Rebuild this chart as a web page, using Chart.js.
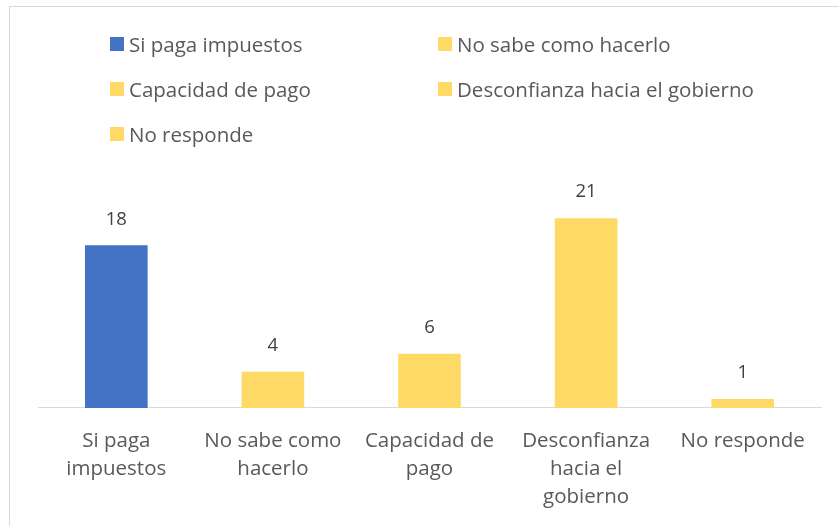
<!DOCTYPE html>
<html>
<head>
<meta charset="utf-8">
<script src="https://cdn.jsdelivr.net/npm/chart.js@4/dist/chart.umd.min.js"></script>
<style>
  html, body { margin: 0; padding: 0; background: #fff; overflow: hidden; }
  #wrap { position: relative; width: 839px; height: 526px; overflow: hidden; }
  #frame { position: absolute; left: 9px; top: 6px; width: 860px; height: 560px; border: 1px solid #d9d9d9; box-sizing: border-box; }
  canvas { position: absolute; left: 0; top: 0; }
  #legend { position: absolute; left: 110px; top: 31px; display: grid; grid-template-columns: 328px 360px; grid-auto-rows: 45px;
            font-family: "Open Sans", sans-serif; font-size: 20.5px; color: #595959; }
  #legend .item { display: flex; align-items: center; height: 26px; }
  #legend .box { width: 14px; height: 14px; margin-right: 5px; flex: none; }
</style>
</head>
<body>
<div id="wrap">
  <div id="frame"></div>
  <canvas id="chart" width="839" height="540"></canvas>
  <div id="legend"></div>
</div>
<script>
// categories and counts
const categories = ["Si paga impuestos", "No sabe como hacerlo", "Capacidad de pago", "Desconfianza hacia el gobierno", "No responde"];
const tickLabels = [["Si paga", "impuestos"], ["No sabe como", "hacerlo"], ["Capacidad de", "pago"], ["Desconfianza", "hacia el", "gobierno"], ["No responde"]];
const values = [18, 4, 6, 21, 1];
const barColors = ["#4472C4", "#FFD966", "#FFD966", "#FFD966", "#FFD966"];

// legend in two columns
const legendEl = document.getElementById("legend");
categories.forEach((c, i) => {
    const item = document.createElement("div");
    item.className = "item";
    item.innerHTML = `<span class="box" style="background:${barColors[i]}"></span><span>${c}</span>`;
    legendEl.appendChild(item);
});

// value labels above each bar
const valueLabels = {
    id: "valueLabels",
    afterDatasetsDraw(chart) {
        const ctx = chart.ctx;
        const meta = chart.getDatasetMeta(0);
        ctx.save();
        ctx.font = "18.5px 'Open Sans', sans-serif";
        ctx.fillStyle = "#404040";
        ctx.textAlign = "center";
        ctx.textBaseline = "middle";
        meta.data.forEach((bar, i) => {
            ctx.fillText(String(chart.data.datasets[0].data[i]), bar.x, bar.y - 26);
        });
        ctx.restore();
    }
};

new Chart(document.getElementById("chart"), {
    type: "bar",
    data: {
        labels: tickLabels,
        datasets: [{
            data: values,
            backgroundColor: barColors,
            borderWidth: 0,
            categoryPercentage: 1,
            barPercentage: 0.4
        }]
    },
    options: {
        responsive: false,
        animation: false,
        layout: { padding: { top: 182, left: 38, right: 18, bottom: 10 } },
        plugins: { legend: { display: false }, tooltip: { enabled: false } },
        scales: {
            x: {
                grid: { display: false, drawTicks: false },
                border: { color: "#d9d9d9", width: 1 },
                ticks: {
                    color: "#595959",
                    padding: 19,
                    maxRotation: 0,
                    autoSkip: false,
                    font: { family: "'Open Sans', sans-serif", size: 20.5, lineHeight: 1.366 }
                }
            },
            y: { display: false, min: 0, max: 25 }
        }
    },
    plugins: [valueLabels]
});
</script>
</body>
</html>
